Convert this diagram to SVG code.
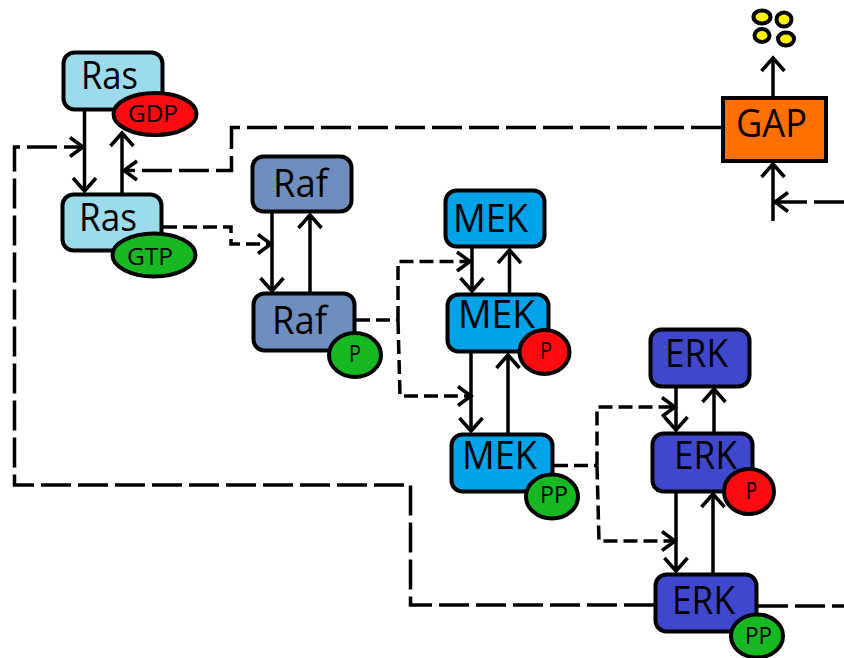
<svg xmlns="http://www.w3.org/2000/svg" width="844" height="658" viewBox="0 0 844 658">
<style>
text{font-family:"Open Sans","Noto Sans","Liberation Sans",sans-serif;fill:#000;text-anchor:start}
.big{font-size:38px}
.small{font-size:23px}
.box,.oval{stroke:#000;stroke-width:4}
.ras{fill:#9BDBEC}.raf{fill:#6E8EBD}.mek{fill:#00A2E8}.erk{fill:#3F48CC}
.red{fill:#FF0A10}.green{fill:#18B823}.yellow{fill:#FFF200}
.s{fill:none;stroke:#000;stroke-width:3.500;marker-end:url(#a)}
.l{fill:none;stroke:#000;stroke-width:3.500;stroke-dasharray:30 7}
.d{fill:none;stroke:#000;stroke-width:3.500;stroke-dasharray:14 6}
.dm{marker-end:url(#b)}
</style>
<defs>
<marker id="a" markerUnits="userSpaceOnUse" markerWidth="30" markerHeight="30" refX="15" refY="15" orient="auto" overflow="visible"><path d="M2 3.500L15 15L2 26.500" fill="none" stroke="#000" stroke-width="3.500"/></marker>
<marker id="b" markerUnits="userSpaceOnUse" markerWidth="30" markerHeight="30" refX="15" refY="15" orient="auto" overflow="visible"><path d="M2 5.500L15 15L2 24.500" fill="none" stroke="#000" stroke-width="3.500"/></marker>
</defs>
<g id="connectors">
<path class="s" d="M84.500 111V191"/>
<path class="s" d="M122 193V133"/>
<path class="s" d="M272 213V291"/>
<path class="s" d="M310 292V215"/>
<path class="s" d="M472 248V291"/>
<path class="s" d="M509.500 293V250"/>
<path class="s" d="M471 353V431"/>
<path class="s" d="M508 433V355"/>
<path class="s" d="M676 388V430"/>
<path class="s" d="M714 432V389"/>
<path class="s" d="M676 493V571"/>
<path class="s" d="M713 573V494"/>
<path class="s" d="M773 221V164"/>
<path class="s" d="M773 96V58"/>
<path class="l dm" d="M721 127.500H231.500V170.500H124"/>
<path class="l dm" d="M654 605H410.500V485H14.500V147H83"/>
<path class="l" d="M758 606H844"/>
<path class="l dm" d="M844 202H775"/>
<path class="d dm" d="M163 227H231V244H271"/>
<path class="d" d="M356 320H398"/>
<path class="d dm" d="M398 320V261.500H470"/>
<path class="d dm" d="M398 320L400 396H471"/>
<path class="d" d="M554 465.500H597"/>
<path class="d dm" d="M597 465.500V407H675"/>
<path class="d dm" d="M597 465.500L599 541H675"/>
</g>
<g id="ras-gdp"><rect class="box ras" x="63.500" y="52.500" width="99" height="57" rx="11"/><text class="big" x="81" y="89" textLength="57" lengthAdjust="spacingAndGlyphs">Ras</text><ellipse class="oval red" cx="155" cy="114" rx="41.500" ry="21"/><text class="small" x="128" y="122" textLength="50" lengthAdjust="spacingAndGlyphs">GDP</text></g>
<g id="ras-gtp"><rect class="box ras" x="62.500" y="194.500" width="99" height="56" rx="11"/><text class="big" x="79" y="231" textLength="58" lengthAdjust="spacingAndGlyphs">Ras</text><ellipse class="oval green" cx="154" cy="255" rx="41.500" ry="21.500"/><text class="small" x="127" y="265" textLength="46" lengthAdjust="spacingAndGlyphs">GTP</text></g>
<g id="raf"><rect class="box raf" x="252.500" y="156.500" width="99" height="55" rx="11"/><text class="big" x="273" y="197" textLength="55" lengthAdjust="spacingAndGlyphs">Raf</text></g>
<g id="raf-p"><rect class="box raf" x="253.500" y="293.500" width="101" height="57" rx="11"/><text class="big" x="272" y="334" textLength="55" lengthAdjust="spacingAndGlyphs">Raf</text><ellipse class="oval green" cx="355" cy="355" rx="26" ry="22"/><text class="small" x="349" y="362" textLength="12" lengthAdjust="spacingAndGlyphs">P</text></g>
<g id="mek"><rect class="box mek" x="445.500" y="190.500" width="99" height="56" rx="11"/><text class="big" x="453" y="232" textLength="75" lengthAdjust="spacingAndGlyphs">MEK</text></g>
<g id="mek-p"><rect class="box mek" x="447.500" y="294.500" width="101" height="57" rx="11"/><text class="big" x="458" y="328" textLength="77" lengthAdjust="spacingAndGlyphs">MEK</text><ellipse class="oval red" cx="544.500" cy="352" rx="25" ry="22"/><text class="small" x="540" y="359" textLength="12" lengthAdjust="spacingAndGlyphs">P</text></g>
<g id="mek-pp"><rect class="box mek" x="451.500" y="434.500" width="101" height="57" rx="11"/><text class="big" x="462" y="469" textLength="75" lengthAdjust="spacingAndGlyphs">MEK</text><ellipse class="oval green" cx="552" cy="496.500" rx="26" ry="22"/><text class="small" x="540" y="503" textLength="28" lengthAdjust="spacingAndGlyphs">PP</text></g>
<g id="erk"><rect class="box erk" x="650.500" y="329.500" width="99" height="57" rx="11"/><text class="big" x="665" y="367" textLength="63" lengthAdjust="spacingAndGlyphs">ERK</text></g>
<g id="erk-p"><rect class="box erk" x="652.500" y="433.500" width="100" height="58" rx="11"/><text class="big" x="674" y="469" textLength="63" lengthAdjust="spacingAndGlyphs">ERK</text><ellipse class="oval red" cx="749" cy="491.500" rx="25" ry="22.500"/><text class="small" x="746" y="499" textLength="11" lengthAdjust="spacingAndGlyphs">P</text></g>
<g id="erk-pp"><rect class="box erk" x="655.500" y="574.500" width="101" height="57" rx="11"/><text class="big" x="672" y="614" textLength="63" lengthAdjust="spacingAndGlyphs">ERK</text><ellipse class="oval green" cx="757" cy="636" rx="26" ry="21.500"/><text class="small" x="745" y="644" textLength="27" lengthAdjust="spacingAndGlyphs">PP</text></g>
<g id="gap"><rect x="723" y="98" width="103" height="63" fill="#FF7000" stroke="#000" stroke-width="4"/><text class="big" x="736" y="137" textLength="71" lengthAdjust="spacingAndGlyphs">GAP</text></g>
<g id="products">
<ellipse class="oval yellow" cx="762" cy="17" rx="8.500" ry="6.500"/>
<ellipse class="oval yellow" cx="784" cy="19.500" rx="7.500" ry="7"/>
<ellipse class="oval yellow" cx="762" cy="35.500" rx="7.500" ry="6.500"/>
<ellipse class="oval yellow" cx="786" cy="39" rx="8" ry="6.500"/>
</g>
</svg>
